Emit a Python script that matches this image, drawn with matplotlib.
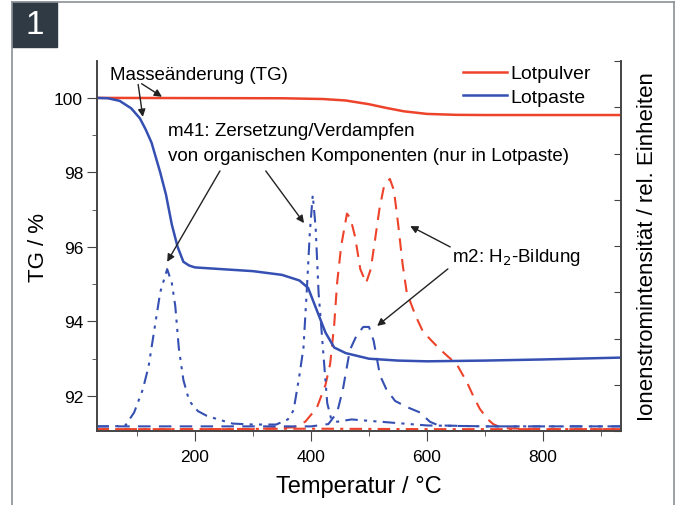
import numpy as np
import matplotlib
matplotlib.use('Agg')
import matplotlib.pyplot as plt
from matplotlib.patches import Rectangle
from matplotlib.lines import Line2D

plt.rcParams['font.family'] = ['Liberation Sans', 'DejaVu Sans']

RED = '#ee432b'
BLUE = '#3550b2'

# TG curves (mass change, %)
T_PULVER = [30, 350, 420, 460, 500, 530, 560, 600, 650, 700, 935]
TG_PULVER = [100, 99.99, 99.97, 99.93, 99.83, 99.73, 99.64, 99.57, 99.545, 99.54, 99.54]

T_PASTE = [30, 50, 70, 90, 105, 115, 125, 140, 150, 160, 170, 180, 190, 200, 250, 300,
           350, 380, 395, 410, 425, 440, 460, 500, 550, 600, 700, 800, 935]
TG_PASTE = [100, 99.99, 99.92, 99.72, 99.45, 99.15, 98.8, 98.0, 97.4, 96.6, 96.0, 95.6,
            95.5, 95.45, 95.4, 95.35, 95.25, 95.1, 94.9, 94.3, 93.7, 93.3, 93.15, 93.0,
            92.95, 92.93, 92.95, 92.98, 93.03]

# ion current (rel. units)
T_M41_PASTE = [30, 60, 80, 95, 110, 120, 130, 140, 152, 160, 166, 172, 180, 190, 205,
               220, 240, 265, 300, 340, 360, 370, 380, 387, 393, 398, 403, 408, 413,
               418, 423, 428, 435, 445, 470, 520, 600, 700, 800, 935]
M41_PASTE = [0.1, 0.1, 0.12, 0.4, 0.9, 1.4, 2.2, 3.0, 3.5, 3.2, 2.7, 1.8, 1.1, 0.65,
             0.43, 0.33, 0.25, 0.16, 0.14, 0.14, 0.25, 0.45, 1.2, 1.8, 3.1, 4.3, 5.1,
             4.4, 3.0, 2.2, 1.4, 0.6, 0.25, 0.2, 0.25, 0.2, 0.12, 0.1, 0.1, 0.1]

T_M41_PULVER = [30, 200, 400, 600, 800, 935]
M41_PULVER = [0.04, 0.04, 0.05, 0.04, 0.04, 0.04]

T_M2_PASTE = [30, 300, 400, 430, 445, 455, 467, 478, 490, 500, 508, 519, 530, 545,
              565, 588, 605, 620, 700, 935]
M2_PASTE = [0.1, 0.1, 0.1, 0.15, 0.4, 0.9, 1.75, 2.05, 2.25, 2.25, 1.95, 1.2, 0.9,
            0.65, 0.52, 0.4, 0.2, 0.12, 0.1, 0.1]

T_M2_PULVER = [30, 300, 370, 390, 410, 425, 433, 440, 445, 452, 462, 468, 476, 485,
               495, 503, 510, 518, 526, 536, 543, 550, 558, 565, 580, 593, 608, 622,
               637, 651, 660, 669, 680, 691, 705, 714, 730, 800, 935]
M2_PULVER = [0.04, 0.04, 0.08, 0.2, 0.5, 1.0, 1.45, 2.3, 3.2, 4.0, 4.7, 4.6, 4.2,
             3.5, 3.2, 3.5, 4.1, 4.8, 5.3, 5.45, 5.2, 4.5, 3.6, 3.0, 2.5, 2.15, 1.95,
             1.77, 1.6, 1.45, 1.25, 1.05, 0.75, 0.48, 0.25, 0.15, 0.06, 0.04, 0.04]

X_TICKS = [200, 400, 600, 800]
Y_TICKS = [92, 94, 96, 98, 100]

fig = plt.figure(figsize=(6.81, 5.06), dpi=100)
ax = fig.add_axes([97/681, 74/506, 524/681, 370/506])
ax2 = ax.twinx()

# ion current traces (right axis)
ax2.plot(T_M2_PULVER, M2_PULVER, color=RED, lw=1.5, dashes=(6, 4))
ax2.plot(T_M41_PULVER, M41_PULVER, color=RED, lw=1.5, dashes=(6, 3, 1.5, 3))
ax2.plot(T_M2_PASTE, M2_PASTE, color=BLUE, lw=1.5, dashes=(6, 4))
ax2.plot(T_M41_PASTE, M41_PASTE, color=BLUE, lw=1.5, dashes=(6, 3, 1.5, 3, 1.5, 3))
ax2.set_ylim(0, 8)
ax2.set_yticks(range(9))
ax2.set_yticklabels([])
ax2.tick_params(axis='y', direction='in', length=5, color='#444')
ax2.set_ylabel('Ionenstromintensität / rel. Einheiten', fontsize=16, labelpad=8)

# TG curves (left axis)
ax.set_zorder(ax2.get_zorder() + 1)
ax.patch.set_visible(False)
ax.plot(T_PULVER, TG_PULVER, color=RED, lw=1.8, label='Lotpulver')
ax.plot(T_PASTE, TG_PASTE, color=BLUE, lw=1.8, label='Lotpaste')

ax.set_xlim(31, 934.5)
ax.set_ylim(91.06, 100.99)
ax.set_xticks(X_TICKS)
ax.set_xticks([100, 300, 500, 700, 900], minor=True)
ax.set_yticks(Y_TICKS)
ax.set_yticks([93, 95, 97, 99], minor=True)
ax.tick_params(axis='both', which='major', direction='out', length=7, labelsize=12.5,
               color='#444')
ax.tick_params(axis='x', which='major', pad=6)
ax.tick_params(axis='y', which='major', pad=3)
ax.tick_params(axis='both', which='minor', direction='out', length=3.5, color='#444')
ax.set_xlabel('Temperatur / °C', fontsize=17, labelpad=8)
ax.set_ylabel('TG / %', fontsize=16, labelpad=4)

for a in (ax, ax2):
    a.spines['top'].set_visible(False)
    for s in ('left', 'right', 'bottom'):
        a.spines[s].set_color('#444')
        a.spines[s].set_linewidth(1.2)

ax.legend(loc='upper left', bbox_to_anchor=(0.698, 0.99), frameon=False,
          fontsize=14, handlelength=2.3, handletextpad=0.15, labelspacing=0.3,
          borderpad=0, borderaxespad=0)

# annotations
arrow = dict(arrowstyle='-|>', color='#222', lw=1.0, mutation_scale=11, shrinkA=0, shrinkB=0)
ax.text(53, 100.62, 'Masseänderung (TG)', fontsize=13.5, va='center', ha='left')
ax.annotate('', xy=(143, 100.03), xytext=(108, 100.38), arrowprops=arrow)
ax.annotate('', xy=(110, 99.49), xytext=(102, 100.36), arrowprops=arrow)

ax.text(153, 99.13, 'm41: Zersetzung/Verdampfen', fontsize=13.5, va='center', ha='left')
ax.text(153, 98.46, 'von organischen Komponenten (nur in Lotpaste)', fontsize=13.5,
        va='center', ha='left')
ax.annotate('', xy=(152, 95.6), xytext=(243, 98.04), arrowprops=arrow)
ax.annotate('', xy=(388, 96.64), xytext=(322, 98.04), arrowprops=arrow)

ax.text(643, 95.73, 'm2: H$_2$-Bildung', fontsize=13.5, va='center', ha='left')
ax.annotate('', xy=(571, 96.56), xytext=(640, 96.0), arrowprops=arrow)
ax.annotate('', xy=(514, 93.88), xytext=(636, 95.41), arrowprops=arrow)

# frame and panel number
W, H = 681, 506
for xs, ys in (([12, 12], [0, 503]), ([12, 674], [503, 503]), ([674, 674], [503, 0])):
    fig.add_artist(Line2D([x / W for x in xs], [y / H for y in ys], color='#8a9096', lw=1.2))
fig.add_artist(Rectangle((12 / W, 458 / H), 45 / W, 45 / H, color='#2f3a45'))
fig.text(34.5 / W, 480 / H, '1', color='white', fontsize=24, ha='center', va='center')

fig.savefig('out.png', dpi=100)
